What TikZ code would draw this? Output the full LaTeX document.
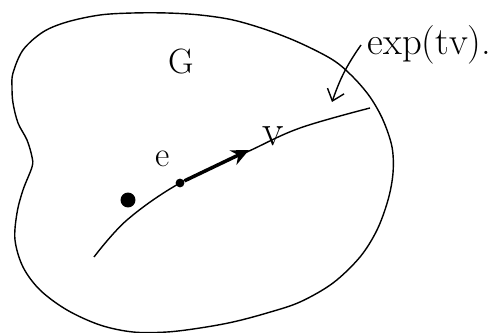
\documentclass[tikz,border=0pt]{standalone}
\usetikzlibrary{arrows.meta}
\begin{document}
\begin{tikzpicture}[x=0.02cm,y=-0.02cm,line width=.8pt,every node/.style={font=\fontsize{20}{24}\selectfont}]
\useasboundingbox(0,0)rectangle(499,333);
\draw plot[smooth cycle,tension=.55]coordinates{(13,73)(23,50)(43,32)(67,22)(100,15)(133,13)(167,13)(200,15)(233,20)(267,30)(300,43)(333,60)(353,77)(370,97)(383,120)(392,147)(393,173)(388,200)(377,230)(360,257)(333,283)(300,302)(267,313)(233,322)(200,328)(167,332)(133,332)(100,325)(67,310)(40,290)(23,267)(15,240)(17,213)(23,190)(32,167)(32,157)(27,140)(18,123)(13,103)(12,87)};
\draw plot[smooth,tension=.6]coordinates{(94,257)(127,220)(180,183)(247,152)(300,128)(370,108)};
\node[circle,fill,inner sep=0,minimum size=8.5pt](q)at(128,200){};
\node[circle,fill,inner sep=0,minimum size=5pt](edot)at(180,183){};
\coordinate(vtip)at(249,150);\coordinate(ctip)at(332,102);
\draw[line width=2pt,-{Stealth[length=10pt,width=9pt]}](edot)--(vtip);
\node(G)at(181,62){G};
\node(e)at(163,159){e};
\node[font=\fontsize{25}{30}\selectfont](v)at(273,136){v};
\node[anchor=west,font=\fontsize{22}{26}\selectfont](lbl)at(361,45){exp(tv).};
\draw[-{Straight Barb[length=6pt,width=10pt]}](lbl.west)to[bend right=8](ctip);
\end{tikzpicture}
\end{document}
